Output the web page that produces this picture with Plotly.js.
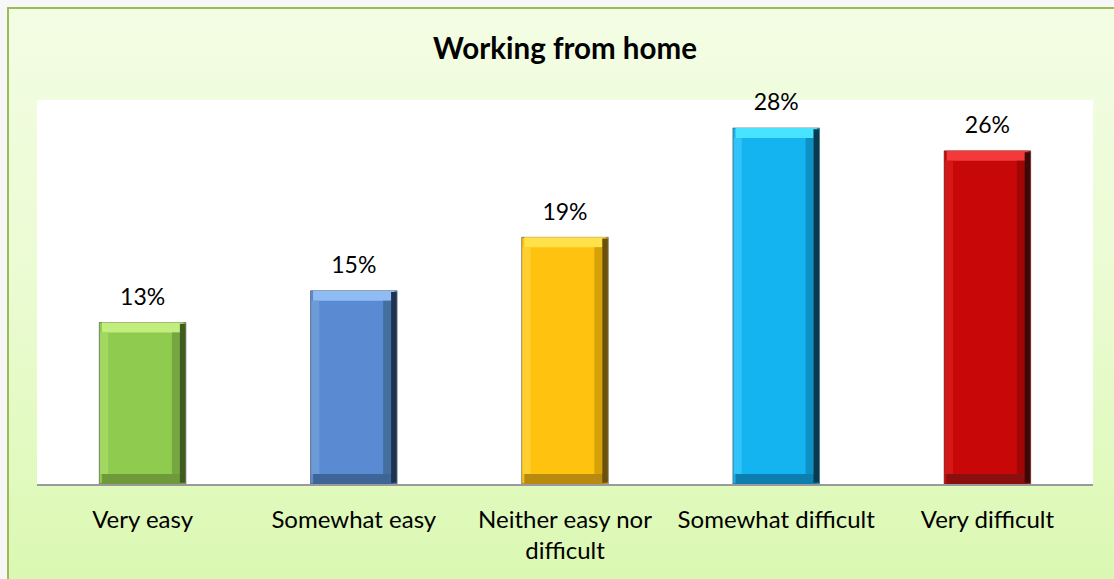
<!DOCTYPE html>
<html>
<head>
<meta charset="utf-8">
<script src="https://cdn.plot.ly/plotly-3.0.1.min.js"></script>
<style>
  html, body { margin: 0; padding: 0; width: 1114px; height: 579px; overflow: hidden; background: #f7f7f7; }
  #frame { position: absolute; left: 7px; top: 7px; width: 1120px; height: 590px;
           border-left: 2px solid #9BBB59; border-top: 2px solid #9BBB59;
           background: linear-gradient(to bottom, #F3FDE4 0%, #EAFBD0 50%, #DAF8B0 100%); }
  #chart { position: absolute; left: 0; top: 0; width: 1114px; height: 579px; }
</style>
</head>
<body>
<div id="frame"></div>
<div id="chart"></div>
<script>
// ---- data ----
const categories = ["Very easy", "Somewhat easy", "Neither easy nor<br>difficult", "Somewhat difficult", "Very difficult"];
const values = [0.127, 0.152, 0.194, 0.280, 0.262];
const title = "Working from home";

// ---- styles ----
const mainCol  = ["#8FCB4E", "#5A8BD2", "#FFC20E", "#14B4F0", "#C80808"];
const topCol   = ["#C2EE80", "#90BCF4", "#FFE24A", "#48E4FF", "#F23A3A"];
const botCol   = ["#6F9A3A", "#3E6597", "#B88A10", "#0C7FB0", "#8A1010"];
const leftCol  = ["#A2D862", "#6D9AD8", "#FFD030", "#30C4F8", "#D41818"];
const midCol   = ["#76A63F", "#44709F", "#D6A208", "#0F90C4", "#A00606"];
const darkCol  = ["#3F5A22", "#1F3350", "#6A5010", "#0A3A50", "#3E0808"];

const FONT = "Lato, 'Noto Sans', sans-serif";
const W = 0.41;          // bar width in category units
const bev = 0.0078;      // bevel depth in value units
const side = 0.038;      // side strip width
const labelGap = 0.0075; // space between bar top and its label

const traces = [];
// main bar
traces.push({
  type: "bar", x: categories, y: values, width: W,
  marker: { color: mainCol, line: { color: "rgba(60,60,60,0.55)", width: 1 } },
  hoverinfo: "skip"
});
// top bevel
traces.push({
  type: "bar", x: categories, y: values.map(() => bev), base: values.map(v => v - bev),
  width: W * 0.94, marker: { color: topCol }, hoverinfo: "skip"
});
// bottom bevel
traces.push({
  type: "bar", x: categories, y: values.map(() => bev), base: values.map(() => 0),
  width: W * 0.94, marker: { color: botCol }, hoverinfo: "skip"
});
// left highlight strip
traces.push({
  type: "bar", x: categories, y: values.map(v => v - 2 * bev), base: values.map(() => bev),
  offset: -W / 2 + 0.004, width: side, marker: { color: leftCol }, hoverinfo: "skip"
});
// right mid strip
traces.push({
  type: "bar", x: categories, y: values.map(v => v - 2 * bev), base: values.map(() => bev),
  offset: W / 2 - 2 * side + 0.01, width: side, marker: { color: midCol }, hoverinfo: "skip"
});
// right dark strip
traces.push({
  type: "bar", x: categories, y: values.map(v => v - 0.002), base: values.map(() => 0.001),
  offset: W / 2 - side * 0.75, width: side * 0.7, marker: { color: darkCol }, hoverinfo: "skip"
});
// invisible spacer carrying the value labels
traces.push({
  type: "bar", x: categories, y: values.map(() => labelGap), base: values, width: W,
  marker: { color: "rgba(0,0,0,0)" },
  text: values.map(v => Math.round(v * 100) + "%"),
  textposition: "outside", cliponaxis: false,
  textfont: { family: FONT, size: 23, color: "#000000" },
  hoverinfo: "skip"
});

const layout = {
  width: 1114, height: 579,
  margin: { l: 37, r: 21, t: 100, b: 95 },
  paper_bgcolor: "rgba(0,0,0,0)",
  plot_bgcolor: "#FFFFFF",
  barmode: "overlay",
  showlegend: false,
  title: {
    text: "<b>" + title + "</b>",
    x: 0.5, xref: "paper", xanchor: "center",
    y: 1 - 49 / 579, yref: "container", yanchor: "middle",
    font: { family: FONT, size: 29.5, color: "#000000" }
  },
  xaxis: {
    type: "category",
    showline: true, linecolor: "#9A9A9A", linewidth: 2,
    ticks: "", ticklabelstandoff: 13,
    tickfont: { family: FONT, size: 24, color: "#000000" },
    showgrid: false, zeroline: false, fixedrange: true
  },
  yaxis: {
    range: [0, 0.302],
    showgrid: false, zeroline: false, showline: false,
    showticklabels: false, ticks: "", fixedrange: true
  }
};

Plotly.newPlot("chart", traces, layout, { staticPlot: true, displayModeBar: false });
</script>
</body>
</html>
